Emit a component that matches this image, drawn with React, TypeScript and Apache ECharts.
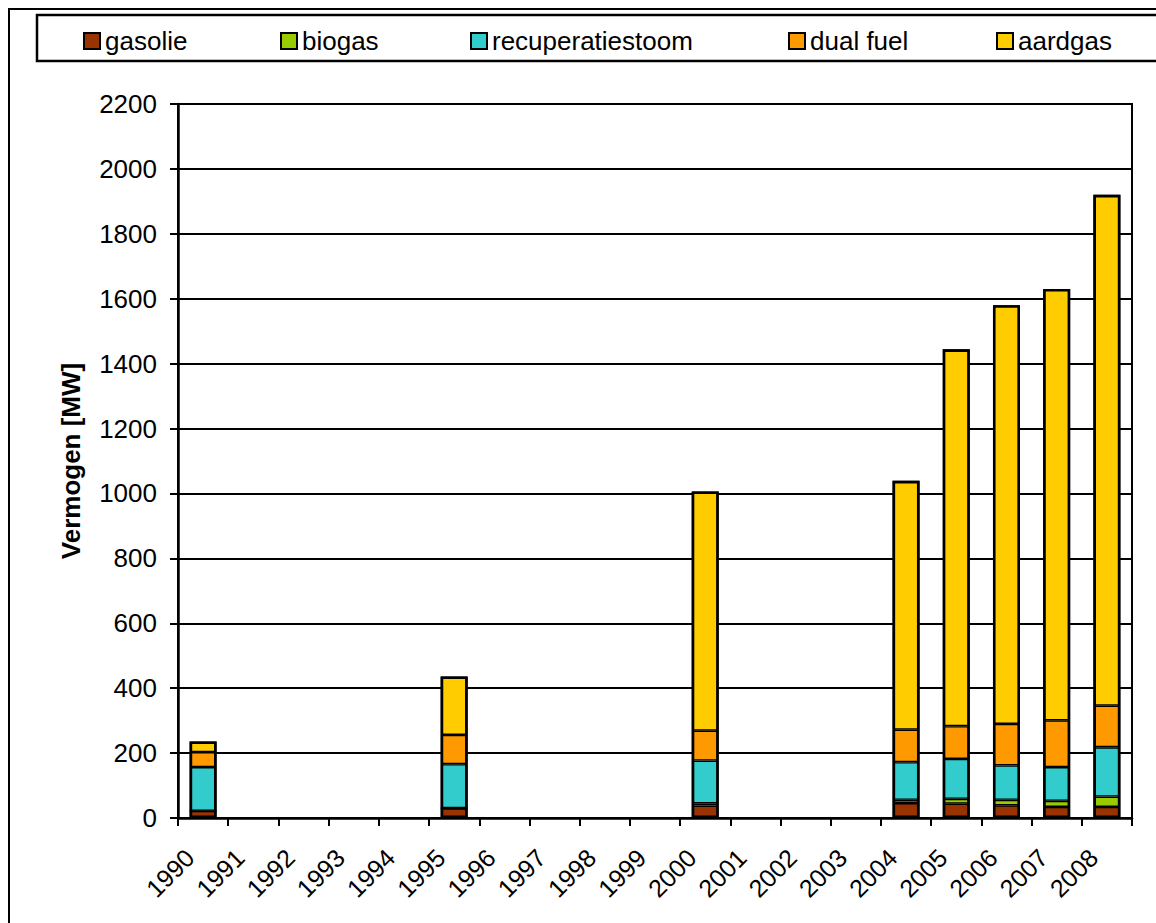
import React, { useEffect, useRef } from "react";
import * as echarts from "echarts";

const years = ["1990","1991","1992","1993","1994","1995","1996","1997","1998","1999","2000","2001","2002","2003","2004","2005","2006","2007","2008"];
const seriesNames = ["gasolie", "biogas", "recuperatiestoom", "dual fuel", "aardgas"];
const seriesColors = ["#993300", "#99CC00", "#33CCCC", "#FF9900", "#FFCC00"];

const gasolie = [22, null, null, null, null, 30, null, null, null, null, 38, null, null, null, 46, 44, 39, 34, 34];
const biogas = [0, null, null, null, null, 0, null, null, null, null, 7, null, null, null, 10, 15, 17, 19, 32];
const recuperatiestoom = [135, null, null, null, null, 136, null, null, null, null, 132, null, null, null, 116, 123, 106, 104, 152];
const dualFuel = [46, null, null, null, null, 90, null, null, null, null, 92, null, null, null, 100, 101, 128, 144, 128];
const aardgas = [33, null, null, null, null, 180, null, null, null, null, 737, null, null, null, 767, 1161, 1290, 1329, 1574];

const yMin = 0;
const yMax = 2200;
const yStep = 200;
const yTitle = "Vermogen [MW]";

const FONT = "'Liberation Sans', Arial, Helvetica, sans-serif";

export default function App() {
  const ref = useRef<HTMLDivElement>(null);
  useEffect(() => {
    document.body.style.margin = "0";
    if (!ref.current) return;
    const chart = echarts.init(ref.current, undefined, { renderer: "svg" });
    const dataSets = [gasolie, biogas, recuperatiestoom, dualFuel, aardgas];
    const totals = years.map((_, j) => {
      const vals = dataSets.map((d) => d[j]);
      if (vals.every((v) => v == null)) return null;
      return vals.reduce((s: number, v) => s + (v || 0), 0);
    });
    const legendLefts = [83, 280, 470, 788, 996];
    const option: any = {
      animation: false,
      backgroundColor: "#ffffff",
      textStyle: { fontFamily: FONT, color: "#000" },
      graphic: [
        { type: "rect", shape: { x: 9, y: 9, width: 1300, height: 1100 }, style: { fill: "none", stroke: "#000", lineWidth: 2 }, silent: true },
        { type: "rect", shape: { x: 37, y: 15, width: 1300, height: 46 }, style: { fill: "none", stroke: "#000", lineWidth: 2.5 }, silent: true },
      ],
      legend: seriesNames.map((n, i) => ({
        data: [n],
        left: legendLefts[i],
        top: 28,
        itemWidth: 16,
        itemHeight: 16,
        icon: "rect",
        padding: 0,
        itemStyle: { borderColor: "#000", borderWidth: 2 },
        textStyle: { fontSize: 26, color: "#000", fontFamily: FONT },
      })),
      grid: {
        left: 178,
        right: 24,
        top: 104,
        bottom: 105,
        show: true,
        borderColor: "#000",
        borderWidth: 2,
      },
      xAxis: {
        type: "category",
        data: years,
        axisLine: { lineStyle: { color: "#000", width: 2.5 } },
        axisTick: { show: true, length: 8, alignWithLabel: false, lineStyle: { color: "#000", width: 2 } },
        axisLabel: {
          interval: 0,
          rotate: 45,
          fontSize: 25,
          color: "#000",
          fontFamily: FONT,
          margin: 22,
          padding: [0, 19, 0, 0],
        },
        splitLine: { show: false },
      },
      yAxis: {
        type: "value",
        min: yMin,
        max: yMax,
        interval: yStep,
        name: yTitle,
        nameLocation: "middle",
        nameGap: 94,
        nameTextStyle: { fontSize: 26, fontWeight: "bold", color: "#000", fontFamily: FONT },
        axisLine: { show: true, lineStyle: { color: "#000", width: 2.5 } },
        axisTick: { show: true, length: 8, lineStyle: { color: "#000", width: 2 } },
        axisLabel: { fontSize: 26, color: "#000", fontFamily: FONT, margin: 21, formatter: (v: number) => String(v) },
        splitLine: { show: true, lineStyle: { color: "#000", width: 2 } },
      },
      series: [
        ...seriesNames.map((n, i) => ({
          name: n,
          type: "bar",
          stack: "total",
          barWidth: 27,
          data: dataSets[i],
          itemStyle: { color: seriesColors[i], borderColor: "#000", borderWidth: 1.4 },
        })),
        {
          name: "totaal",
          type: "bar",
          barWidth: 27,
          barGap: "-100%",
          data: totals,
          silent: true,
          z: 3,
          itemStyle: { color: "rgba(0,0,0,0)", borderColor: "#000", borderWidth: 2.6 },
        },
      ],
    };
    chart.setOption(option);
    return () => chart.dispose();
  }, []);
  return <div ref={ref} style={{ width: 1156, height: 923 }} />;
}
